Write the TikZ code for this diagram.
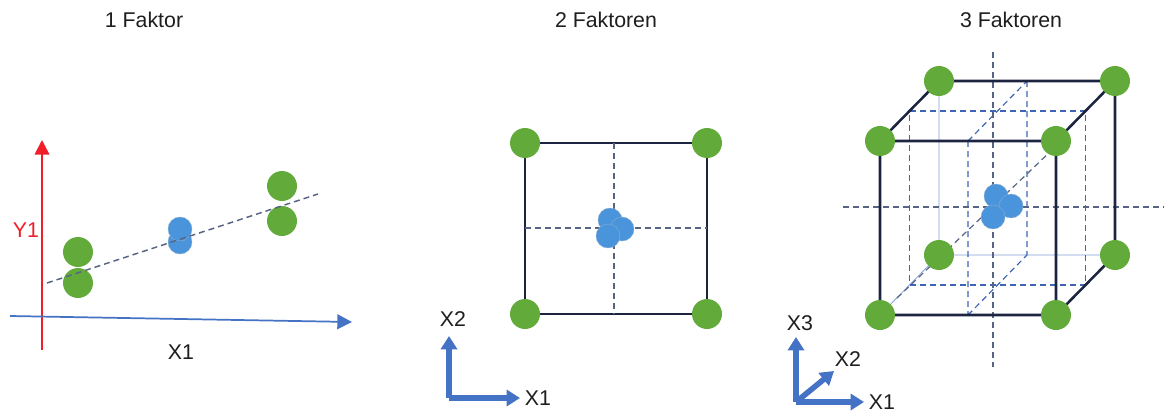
\documentclass[tikz,border=0pt]{standalone}
\usepackage{fontspec}
\setmainfont{Liberation Sans}
\usetikzlibrary{arrows.meta}
\definecolor{ballgreen}{RGB}{98,170,58}
\definecolor{ballblue}{RGB}{74,148,220}
\definecolor{axblue}{RGB}{68,114,196}
\definecolor{axred}{RGB}{240,30,40}
\definecolor{edgenavy}{RGB}{28,36,64}
\definecolor{dashgray}{RGB}{88,100,132}
\definecolor{dashblue}{RGB}{62,100,182}
\definecolor{hidblue}{RGB}{130,160,215}
\definecolor{txt}{RGB}{30,30,30}

\begin{document}
\begin{tikzpicture}[x=0.75pt,y=-0.75pt,
    line cap=butt, line join=miter,
    every node/.style={inner sep=0pt,outer sep=0pt},
    lab/.style={font=\fontsize{16}{19}\selectfont,text=txt},
    gball/.style={circle,fill=ballgreen,minimum size=22.5pt},
    bball/.style={circle,fill=ballblue,draw=ballblue!80!black!60,line width=0.3pt,minimum size=18pt},
    thinax/.style={line width=1.3pt,-{Triangle[length=11pt,width=11pt]}},
    bigax/.style={axblue,line width=4.2pt},
    bigtip/.style={-{Triangle[length=10pt,width=12pt]}},
    edge/.style={edgenavy,line width=1.9pt},
    hidden/.style={hidblue,line width=0.6pt},
    dsh/.style={line width=1.1pt,dash pattern=on 4.5pt off 3pt}]
  \useasboundingbox (0,0) rectangle (1164,414);
  % ---- titles ----
  \node[lab] (t1) at (144,20) {1 Faktor};
  \node[lab] (t2) at (606,20) {2 Faktoren};
  \node[lab] (t3) at (1011,20) {3 Faktoren};

  % ---- 1 Faktor ----
  \coordinate (yb) at (42,350);
  \coordinate (yt) at (42,140);
  \coordinate (xl) at (10,316);
  \coordinate (xr) at (352,322);
  \draw[thinax,axred] (yb) -- (yt);
  \draw[thinax,axblue] (xl) -- (xr);
  \node[lab,text=axred] (ly1) at (26,230) {Y1};
  \node[lab] (lx1) at (181,352) {X1};
  \node[gball] (g1) at (78,252) {};
  \node[gball] (g2) at (78,283) {};
  \node[gball] (g3) at (282,186) {};
  \node[gball] (g4) at (282,221) {};
  \node[bball] (b1) at (180,242) {};
  \node[bball] (b2) at (180,229) {};
  \coordinate (fl) at (47,283);
  \coordinate (fr) at (318,194);
  \draw[dsh,dashgray] (fl) -- (fr);

  % ---- 2 Faktoren ----
  \coordinate (s00) at (525,314);
  \coordinate (s10) at (707,314);
  \coordinate (s11) at (707,143);
  \coordinate (s01) at (525,143);
  \coordinate (mt) at (614,143);
  \coordinate (mb) at (614,314);
  \coordinate (ml) at (525,228);
  \coordinate (mr) at (707,228);
  \draw[edge] (s00) -- (s10) -- (s11) -- (s01) -- cycle;
  \draw[dsh,dashgray,line width=0.9pt] (mt) -- (mb) (ml) -- (mr);
  \foreach \c in {s00,s10,s11,s01} \node[gball] (g\c) at (\c) {};
  \node[bball] (c1) at (610,220) {};
  \node[bball] (c2) at (622,229) {};
  \node[bball] (c3) at (608,236) {};
  \coordinate (a2o) at (449,398);
  \coordinate (a2y) at (449,336);
  \coordinate (a2x) at (520,398);
  \draw[bigax,bigtip] (a2o) -- (a2y);
  \draw[bigax,bigtip] (a2o) -- (a2x);
  \node[lab] (lx2) at (453,319) {X2};
  \node[lab] (lx1b) at (538,398) {X1};

  % ---- 3 Faktoren ----
  \coordinate (F00) at (880,315);
  \coordinate (F10) at (1056,315);
  \coordinate (F11) at (1056,141);
  \coordinate (F01) at (880,141);
  \coordinate (B00) at (939,255);
  \coordinate (B10) at (1115,255);
  \coordinate (B11) at (1115,81);
  \coordinate (B01) at (939,81);
  \coordinate (M00) at (909.5,285);
  \coordinate (M10) at (1085.5,285);
  \coordinate (M11) at (1085.5,111);
  \coordinate (M01) at (909.5,111);
  \coordinate (Xf0) at (968,315);
  \coordinate (Xf1) at (968,141);
  \coordinate (Xb0) at (1027,255);
  \coordinate (Xb1) at (1027,81);
  \coordinate (vt) at (993,52);
  \coordinate (vb) at (993,367);
  \coordinate (hl) at (843,207);
  \coordinate (hr) at (1164,207);
  \coordinate (dl) at (897,298);
  \coordinate (dr) at (1052,150);
  % hidden edges
  \draw[hidden] (B01) -- (B00) -- (B10) (F00) -- (B00);
  % inner planes
  \draw[dsh,dashblue,line width=0.9pt] (M00) -- (M10) -- (M11) -- (M01) -- cycle;
  \draw[dsh,dashblue,line width=0.9pt] (Xf1) -- (Xf0) (Xb1) -- (Xb0)
                                     (Xf1) -- (Xb1) (Xf0) -- (Xb0);
  \draw[dsh,dashgray,line width=0.9pt] (dl) -- (dr);
  \draw[dsh,dashgray,line width=0.9pt] (vt) -- (vb) (hl) -- (hr);
  % visible edges
  \draw[edge] (F00) -- (F10) -- (F11) -- (F01) -- cycle
              (F01) -- (B01) -- (B11) -- (F11)
              (B11) -- (B10) -- (F10);
  \foreach \c in {F00,F10,F11,F01,B00,B10,B11,B01} \node[gball] (g\c) at (\c) {};
  \node[bball] (d1) at (996,196) {};
  \node[bball] (d2) at (1011,206) {};
  \node[bball] (d3) at (993,217) {};
  \coordinate (a3o) at (796,402);
  \coordinate (a3z) at (796,337);
  \coordinate (a3x) at (864,402);
  \coordinate (a3y) at (834,371);
  \draw[bigax,bigtip] (a3o) -- (a3z);
  \draw[bigax,bigtip] (a3o) -- (a3x);
  \draw[bigax,bigtip] (a3o) -- (a3y);
  \node[lab] (lx3) at (800,323) {X3};
  \node[lab] (lx2b) at (848,359) {X2};
  \node[lab] (lx1c) at (882,402) {X1};
\end{tikzpicture}
\end{document}
